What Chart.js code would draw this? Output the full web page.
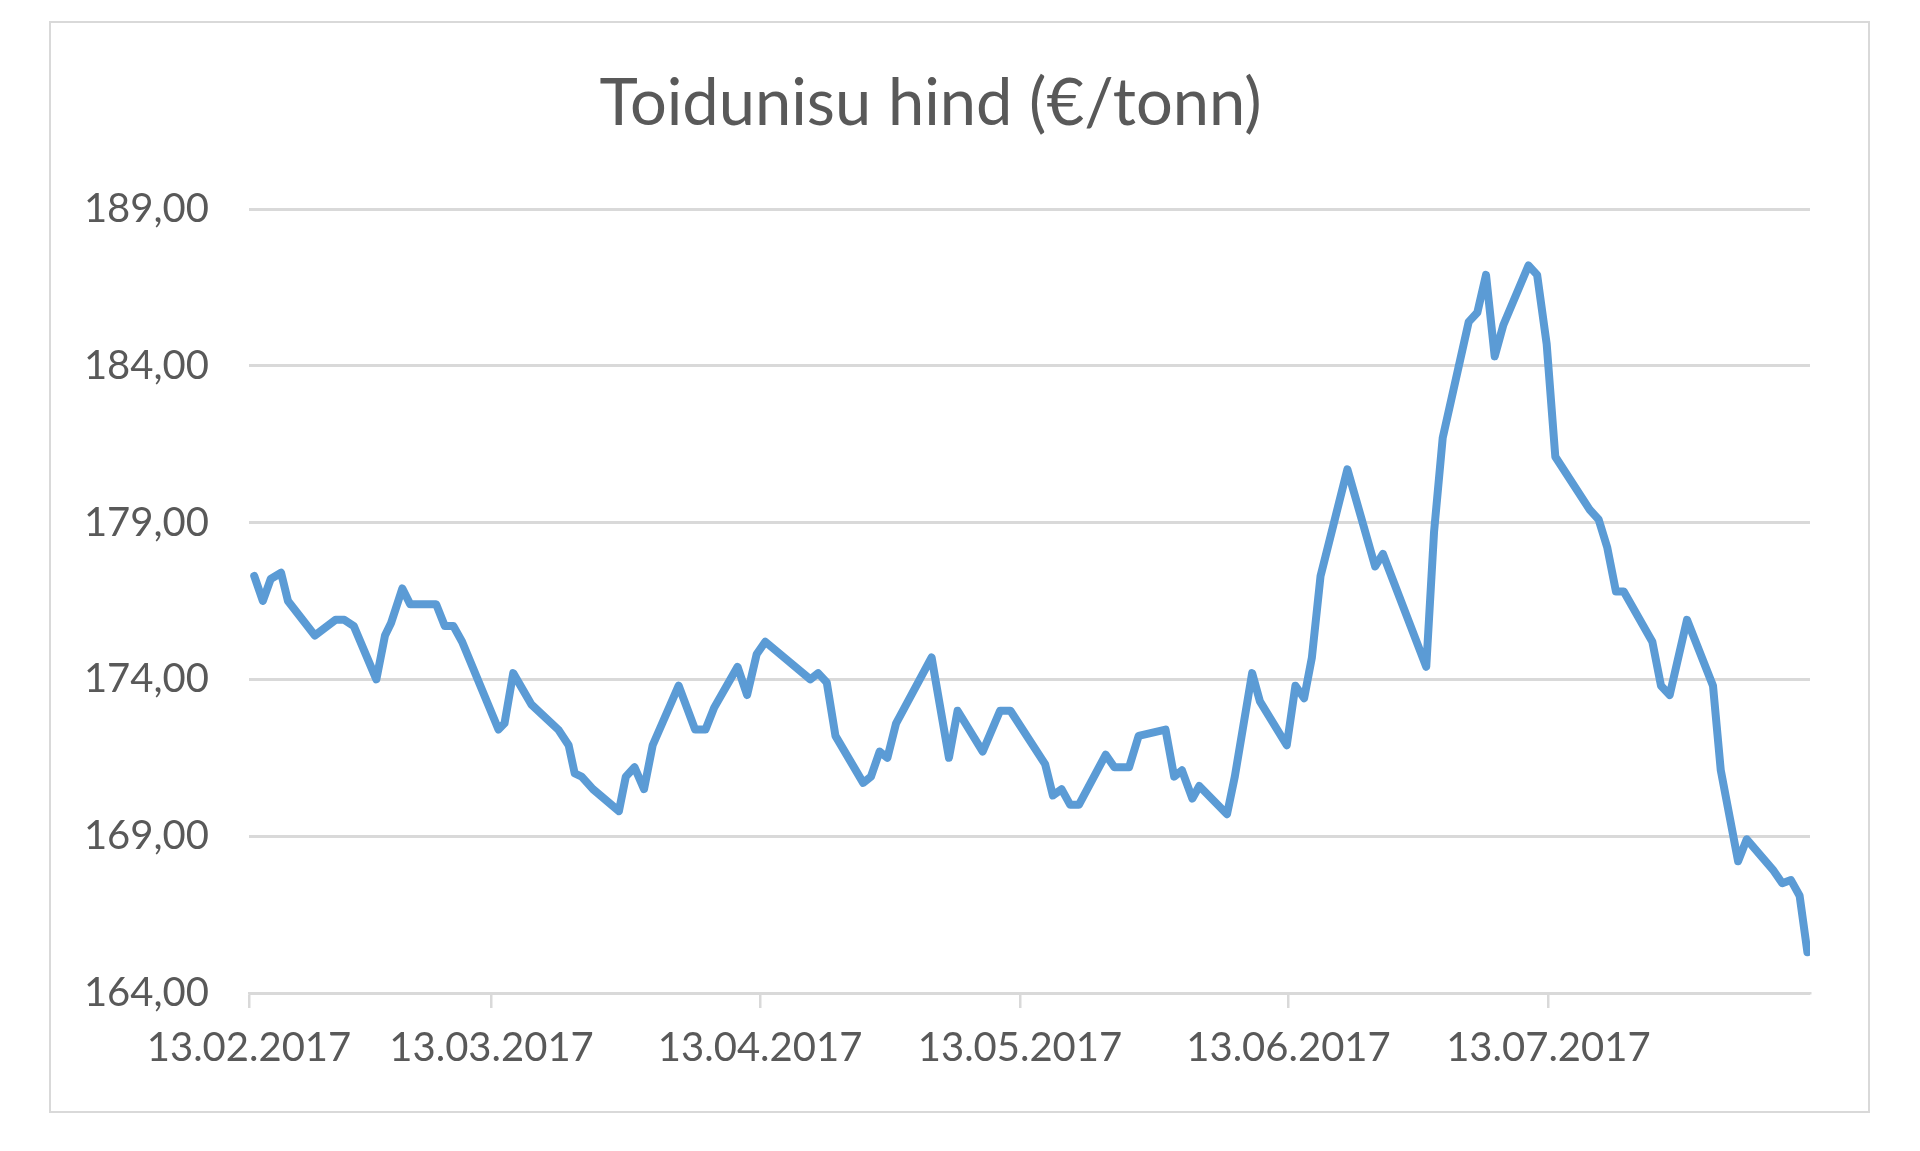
<!DOCTYPE html>
<html>
<head>
<meta charset="utf-8">
<script src="https://cdn.jsdelivr.net/npm/chart.js@4"></script>
<style>
  body { margin: 0; background: #fff; width: 1920px; height: 1151px; overflow: hidden; }
  .chart-box { position: absolute; left: 49px; top: 21px; width: 1817px; height: 1088px; border: 2px solid #d9d9d9; }
</style>
</head>
<body>
<div class="chart-box"><canvas id="price"></canvas></div>
<script>
// days since 13.02.2017
const days = [0.6, 1.6, 2.5, 3.7, 4.5, 7.6, 10, 11, 12.1, 14.7, 15.7, 16.4, 17.7, 18.6, 21.6, 22.6, 23.6, 24.6,
    28.8, 29.5, 30.5, 32.6, 35.7, 36.9, 37.6, 38.4, 39.7, 42.7, 43.5, 44.5, 45.6, 46.6, 49.6, 51.5, 52.7, 53.7,
    56.4, 57.5, 58.6, 59.6, 64.8, 65.7, 66.7, 67.7, 70.9, 71.8, 72.8, 73.7, 74.7, 78.8, 80.8, 81.8, 84.7, 86.7,
    87.9, 91.9, 92.8, 93.8, 94.8, 95.8, 98.9, 99.9, 101.6, 102.7, 105.8, 106.8, 107.7, 108.9, 109.7, 112.9, 113.8,
    115.8, 116.7, 119.8, 120.8, 121.8, 122.7, 123.7, 126.8, 130, 130.9, 135.9, 136.8, 137.8, 140.8, 141.8, 142.8,
    143.8, 144.8, 147.7, 148.7, 149.8, 150.8, 154.8, 155.8, 156.8, 157.8, 158.7, 162, 163, 164, 166, 169, 169.9,
    171.9, 172.9, 176, 177, 178, 179, 179.9];
const prices = [177.3, 176.5, 177.2, 177.4, 176.5, 175.4, 175.9, 175.9, 175.7, 174.0, 175.4, 175.8, 176.9, 176.4, 176.4, 175.7, 175.7, 175.2,
    172.4, 172.6, 174.2, 173.2, 172.4, 171.9, 171.0, 170.9, 170.5, 169.8, 170.9, 171.2, 170.5, 171.9, 173.8, 172.4, 172.4, 173.1,
    174.4, 173.5, 174.8, 175.2, 174.0, 174.2, 173.9, 172.2, 170.7, 170.9, 171.7, 171.5, 172.6, 174.7, 171.5, 173.0, 171.7, 173.0,
    173.0, 171.3, 170.3, 170.5, 170.0, 170.0, 171.6, 171.2, 171.2, 172.2, 172.4, 170.9, 171.1, 170.2, 170.6, 169.7, 170.9,
    174.2, 173.3, 171.9, 173.8, 173.4, 174.7, 177.3, 180.7, 177.6, 178.0, 174.4, 178.7, 181.7, 185.4, 185.7, 186.9,
    184.3, 185.3, 187.2, 186.9, 184.7, 181.1, 179.4, 179.1, 178.2, 176.8, 176.8, 175.2, 173.8, 173.5, 175.9, 173.8, 171.1,
    168.2, 168.9, 167.9, 167.5, 167.6, 167.1, 165.3];
const tickDays = [0, 28, 59, 89, 120, 150];
const tickLabels = ['13.02.2017', '13.03.2017', '13.04.2017', '13.05.2017', '13.06.2017', '13.07.2017'];
const yTicks = [164, 169, 174, 179, 184, 189];

const points = days.map((d, i) => ({ x: d, y: prices[i] }));
const ctx = document.getElementById('price').getContext('2d');

new Chart(ctx, {
    type: 'line',
    data: {
        datasets: [{
            label: 'Toidunisu hind',
            data: points,
            borderColor: '#5b9bd5',
            borderWidth: 8,
            pointRadius: 0,
            tension: 0,
            borderJoinStyle: 'round',
            borderCapStyle: 'round'
        }]
    },
    options: {
        responsive: true,
        maintainAspectRatio: false,
        animation: false,
        layout: { padding: { left: 0, right: 58, top: 0, bottom: 0 } },
        plugins: {
            legend: { display: false },
            tooltip: { enabled: false },
            title: {
                display: true,
                text: 'Toidunisu hind (€/tonn)',
                color: '#595959',
                font: { family: 'Lato', size: 65, weight: 'normal', lineHeight: 1.2 },
                padding: { top: 42, bottom: 66 }
            }
        },
        scales: {
            x: {
                type: 'linear',
                min: 0,
                max: 180.2,
                afterBuildTicks: (scale) => { scale.ticks = tickDays.map((v) => ({ value: v })); },
                afterFit: (scale) => { scale.height = 118; },
                ticks: {
                    callback: (v) => tickLabels[tickDays.indexOf(v)],
                    color: '#595959',
                    font: { family: 'Lato', size: 40 },
                    maxRotation: 0,
                    autoSkip: false,
                    padding: 16
                },
                grid: { drawOnChartArea: false, drawTicks: true, tickLength: 15, color: '#d9d9d9', lineWidth: 2.5 },
                border: { display: true, color: '#d9d9d9', width: 2.5 }
            },
            y: {
                min: 164,
                max: 189,
                afterBuildTicks: (scale) => { scale.ticks = yTicks.map((v) => ({ value: v })); },
                afterFit: (scale) => { scale.width = 198; },
                ticks: {
                    callback: (v) => v.toFixed(2).replace('.', ','),
                    color: '#595959',
                    font: { family: 'Lato', size: 40 },
                    padding: 40
                },
                grid: { drawTicks: false, color: '#d9d9d9', lineWidth: 3 },
                border: { display: false }
            }
        }
    }
});
</script>
</body>
</html>
